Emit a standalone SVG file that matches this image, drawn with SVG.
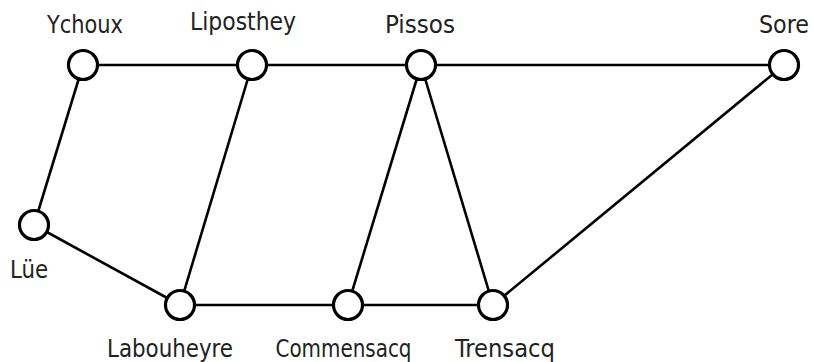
<svg xmlns="http://www.w3.org/2000/svg" width="814" height="362" viewBox="0 0 814 362">
  <style>
    .edge { stroke: #000; stroke-width: 2.6; fill: none; }
    .node circle { fill: #fff; stroke: #000; stroke-width: 3.2; }
    .node text { font-family: "DejaVu Sans Condensed", "DejaVu Sans", sans-serif; font-stretch: condensed; font-size: 24px; fill: #222; text-anchor: middle; }
  </style>
  <rect width="814" height="362" fill="#fff"/>
  <g id="connectors">
    <line class="edge" x1="83" y1="65" x2="252" y2="65"/>
    <line class="edge" x1="252" y1="65" x2="421" y2="65"/>
    <line class="edge" x1="421" y1="65" x2="784" y2="65"/>
    <line class="edge" x1="83" y1="65" x2="34" y2="225"/>
    <line class="edge" x1="34" y1="225" x2="180" y2="305"/>
    <line class="edge" x1="252" y1="65" x2="180" y2="305"/>
    <line class="edge" x1="180" y1="305" x2="348" y2="305"/>
    <line class="edge" x1="348" y1="305" x2="493" y2="305"/>
    <line class="edge" x1="421" y1="65" x2="348" y2="305"/>
    <line class="edge" x1="421" y1="65" x2="493" y2="305"/>
    <line class="edge" x1="784" y1="65" x2="493" y2="305"/>
  </g>
  <g id="ychoux" class="node">
    <circle cx="83" cy="65" r="14.5"/>
    <text x="85" y="32.5" textLength="76" lengthAdjust="spacingAndGlyphs">Ychoux</text>
  </g>
  <g id="liposthey" class="node">
    <circle cx="252" cy="65" r="14.5"/>
    <text x="243" y="30" textLength="106" lengthAdjust="spacingAndGlyphs">Liposthey</text>
  </g>
  <g id="pissos" class="node">
    <circle cx="421" cy="65" r="14.5"/>
    <text x="420" y="32.5" textLength="70" lengthAdjust="spacingAndGlyphs">Pissos</text>
  </g>
  <g id="sore" class="node">
    <circle cx="784" cy="65" r="14.5"/>
    <text x="784" y="32.5" textLength="50" lengthAdjust="spacingAndGlyphs">Sore</text>
  </g>
  <g id="lue" class="node">
    <circle cx="34" cy="225" r="14.5"/>
    <text x="29" y="278" textLength="38" lengthAdjust="spacingAndGlyphs">Lüe</text>
  </g>
  <g id="labouheyre" class="node">
    <circle cx="180" cy="305" r="14.5"/>
    <text x="170" y="357" textLength="126" lengthAdjust="spacingAndGlyphs">Labouheyre</text>
  </g>
  <g id="commensacq" class="node">
    <circle cx="348" cy="305" r="14.5"/>
    <text x="343.5" y="357" textLength="136" lengthAdjust="spacingAndGlyphs">Commensacq</text>
  </g>
  <g id="trensacq" class="node">
    <circle cx="493" cy="305" r="14.5"/>
    <text x="505" y="357" textLength="100" lengthAdjust="spacingAndGlyphs">Trensacq</text>
  </g>
</svg>
